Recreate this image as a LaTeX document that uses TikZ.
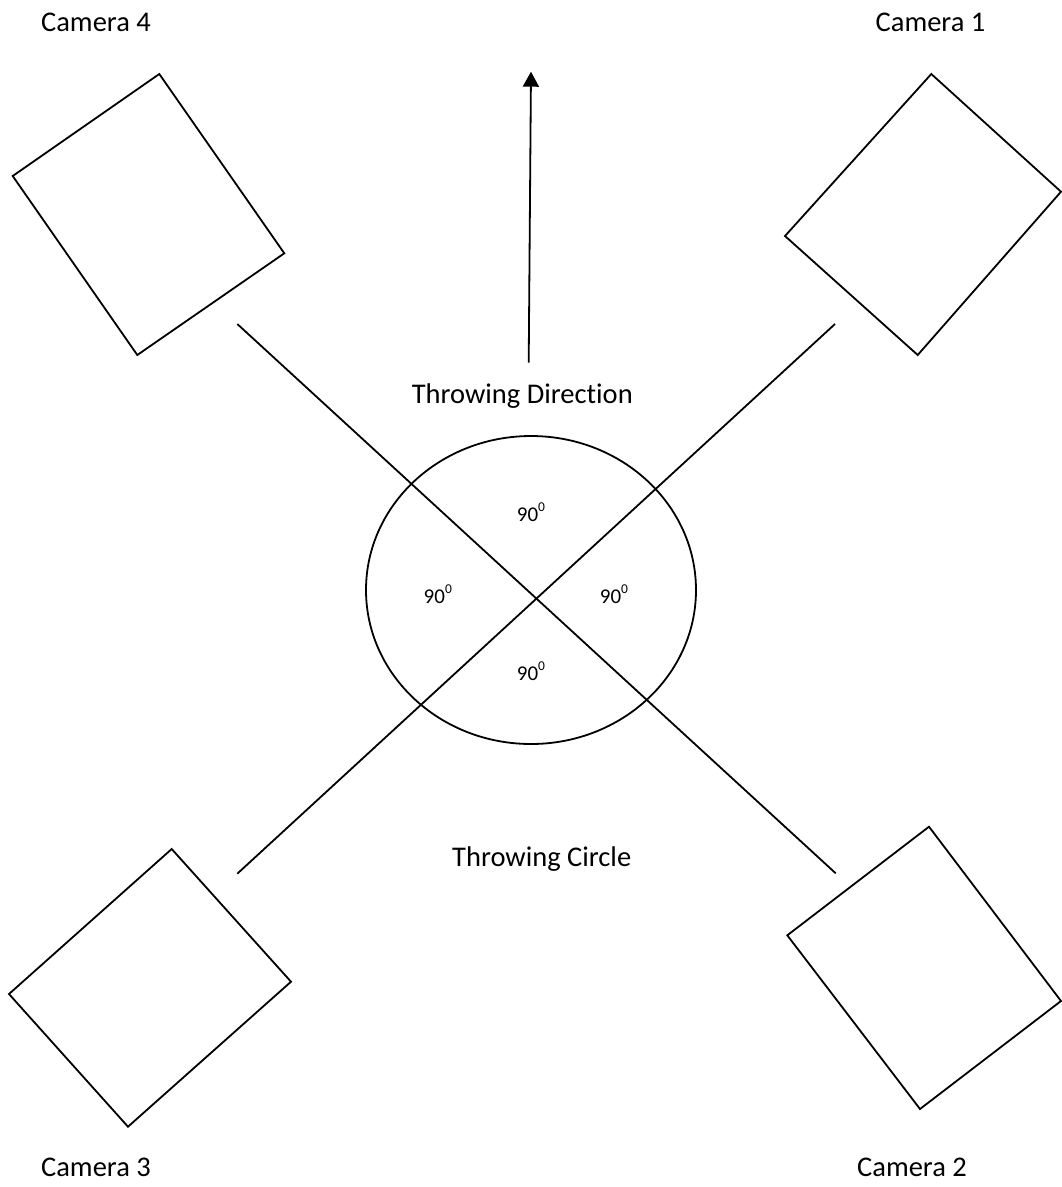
\documentclass[tikz,border=0pt]{standalone}
\usepackage{fontspec}
\setmainfont{Carlito}[RawFeature=-liga]
\usetikzlibrary{arrows.meta,shapes.geometric}
\newcommand{\degsup}{\raisebox{10pt}{\fontsize{13.5}{14}\selectfont 0}}
\tikzset{
  cam/.style={draw=black,line width=1.8pt,line join=miter},
  sight/.style={draw=black,line width=1.8pt},
  lbl/.style={inner sep=0pt,anchor=base,font=\fontsize{28.5}{34}\selectfont},
  ang/.style={inner sep=0pt,anchor=base,font=\fontsize{21}{25}\selectfont},
}
\begin{document}
\begin{tikzpicture}[x=1pt,y=-1pt]
\useasboundingbox (0,0) rectangle (1062,1187);
% camera squares
\draw[cam] (159.3,74) -- (12.7,176) -- (137.3,355) -- (284.3,253.3) -- cycle;
\draw[cam] (931.3,74) -- (785,236) -- (917.7,355) -- (1061,191.7) -- cycle;
\draw[cam] (171.7,849) -- (9,994) -- (128,1126.7) -- (291,981.7) -- cycle;
\draw[cam] (929,826.7) -- (787.3,935.3) -- (920,1109) -- (1061,1001) -- cycle;
% sight lines
\coordinate (a1) at (237.3,324);
\coordinate (a2) at (835.7,873.3);
\coordinate (b1) at (237.3,873.7);
\coordinate (b2) at (835,324);
\draw[sight] (a1) -- (a2);
\draw[sight] (b1) -- (b2);
% throwing circle
\node[draw=black,line width=1.8pt,ellipse,minimum width=330pt,minimum height=308pt,inner sep=0pt] (circ) at (531,590) {};
% arrow
\coordinate (arrS) at (528.7,362.7);
\coordinate (arrE) at (531,71.7);
\draw[line width=1.8pt,-{Triangle[width=16pt,length=15pt]}] (arrS) -- (arrE);
% labels
\node[lbl] (c4) at (96,31.7) {Camera 4};
\node[lbl] (c1) at (930.5,31.7) {Camera 1};
\node[lbl] (c3) at (96,1176) {Camera 3};
\node[lbl] (c2) at (912,1176) {Camera 2};
\node[lbl] (td) at (522.3,403) {Throwing Direction};
\node[lbl] (tc) at (541.7,866.7) {Throwing Circle};
\node[ang] (g1) at (531,521.7) {90\degsup};
\node[ang] (g2) at (437.8,603.3) {90\degsup};
\node[ang] (g3) at (614,603.3) {90\degsup};
\node[ang] (g4) at (531,680.7) {90\degsup};
\end{tikzpicture}
\end{document}
